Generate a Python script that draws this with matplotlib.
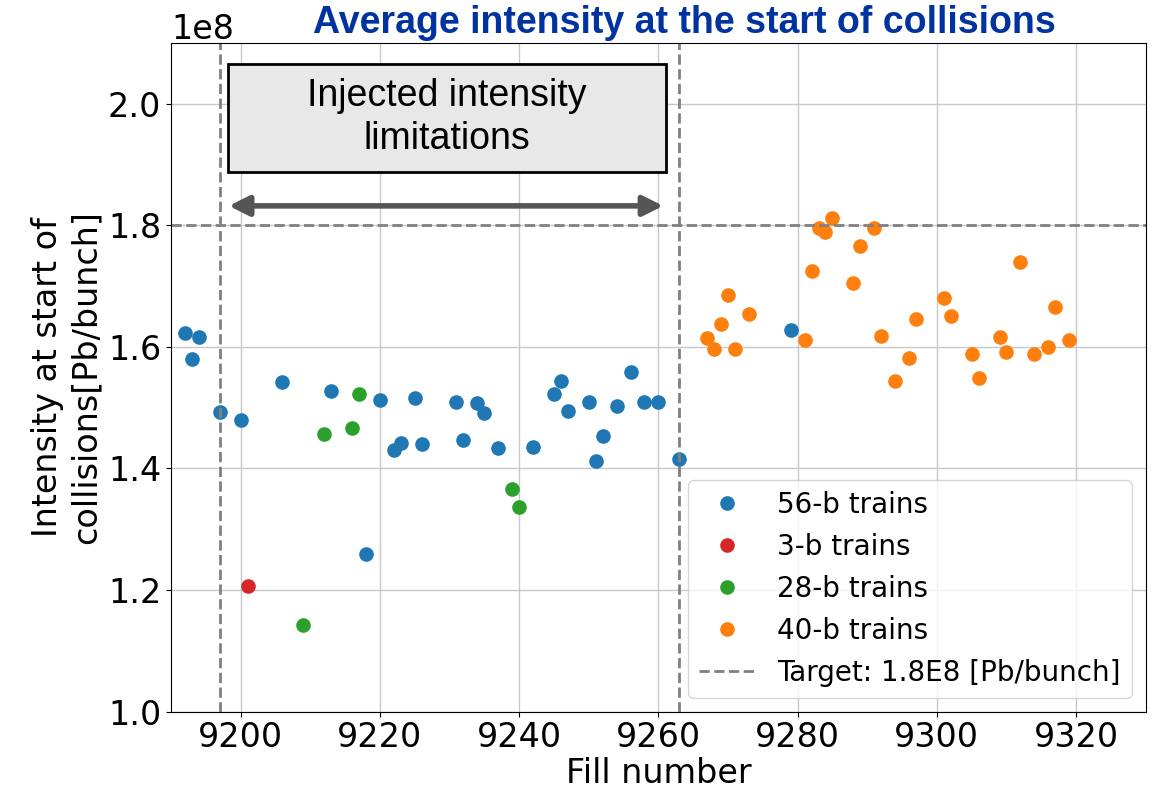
import matplotlib
matplotlib.use('Agg')
import matplotlib.pyplot as plt
from matplotlib.patches import Rectangle

# fills and average intensity at start of collisions (units of 1e8 Pb/bunch)
fill_56b = [9192, 9193, 9194, 9197, 9200, 9206, 9213, 9218, 9220, 9222, 9223,
            9225, 9226, 9231, 9232, 9234, 9235, 9237, 9242, 9245, 9246, 9247,
            9250, 9251, 9252, 9254, 9256, 9258, 9260, 9263, 9279]
int_56b = [1.622, 1.580, 1.616, 1.4925, 1.479, 1.542, 1.527, 1.259, 1.513, 1.431, 1.442,
           1.516, 1.441, 1.509, 1.446, 1.507, 1.492, 1.434, 1.435, 1.523, 1.543, 1.495,
           1.510, 1.412, 1.453, 1.503, 1.559, 1.509, 1.509, 1.416, 1.628]

fill_3b = [9201]
int_3b = [1.207]

fill_28b = [9209, 9212, 9216, 9217, 9239, 9240]
int_28b = [1.142, 1.456, 1.466, 1.522, 1.367, 1.336]

fill_40b = [9267, 9268, 9269, 9270, 9271, 9273, 9281, 9282, 9283, 9284, 9285,
            9288, 9289, 9291, 9292, 9294, 9296, 9297, 9301, 9302, 9305, 9306,
            9309, 9310, 9312, 9314, 9316, 9317, 9319]
int_40b = [1.614, 1.596, 1.638, 1.685, 1.596, 1.654, 1.612, 1.725, 1.796, 1.788, 1.811,
           1.705, 1.766, 1.796, 1.617, 1.543, 1.581, 1.645, 1.680, 1.650, 1.588, 1.549,
           1.616, 1.592, 1.740, 1.588, 1.599, 1.666, 1.612]

target = 1.8
limit_fills = [9197, 9263]

plt.rcParams['font.size'] = 24
plt.rcParams['xtick.labelsize'] = 24
plt.rcParams['ytick.labelsize'] = 24

fig = plt.figure(figsize=(11.58, 7.92), dpi=100)
ax = fig.add_axes([0.1477, 0.1013, 0.8417, 0.8448])

ms = 9.5
ax.plot(fill_56b, [v * 1e8 for v in int_56b], 'o', color='tab:blue', ms=ms, label='56-b trains')
ax.plot(fill_3b, [v * 1e8 for v in int_3b], 'o', color='tab:red', ms=ms, label='3-b trains')
ax.plot(fill_28b, [v * 1e8 for v in int_28b], 'o', color='tab:green', ms=ms, label='28-b trains')
ax.plot(fill_40b, [v * 1e8 for v in int_40b], 'o', color='tab:orange', ms=ms, label='40-b trains')

ax.axhline(target * 1e8, color='gray', ls='--', lw=2, label='Target: 1.8E8 [Pb/bunch]')
for f in limit_fills:
    ax.axvline(f, color='gray', ls='--', lw=2)

ax.set_xlim(9190, 9330)
ax.set_ylim(1.0e8, 2.1e8)
ax.set_xticks([9200, 9220, 9240, 9260, 9280, 9300, 9320])
ax.set_yticks([1.0e8, 1.2e8, 1.4e8, 1.6e8, 1.8e8, 2.0e8])
ax.grid(True, color='#c8c8c8', lw=1)
ax.set_axisbelow(True)
ax.set_xlabel('Fill number', labelpad=2)
ax.set_ylabel('Intensity at start of\ncollisions[Pb/bunch]')
ax.legend(loc='lower right', fontsize=20)

# annotation box and arrow
ax.add_patch(Rectangle((9198.13, 1.8876e8), 9261.1 - 9198.13, (2.0657 - 1.8876) * 1e8,
                       facecolor='#e8e8e8', edgecolor='black', lw=2, zorder=5))
ax.text((9198.13 + 9261.1) / 2, (2.0657 + 1.8876) / 2 * 1e8,
        'Injected intensity\nlimitations', ha='center', va='center',
        family='Liberation Sans', fontsize=27, linespacing=1.25, zorder=6)
ax.annotate('', xy=(9260.7, 1.8317e8), xytext=(9198.3, 1.8317e8),
            arrowprops=dict(arrowstyle='<|-|>', color='#555555', lw=4,
                            mutation_scale=30, shrinkA=0, shrinkB=0), zorder=6)

fig.text(0.2703, (792 - 33) / 792, 'Average intensity at the start of collisions',
         family='Liberation Sans', fontweight='bold', fontsize=27, color='#0033a0',
         ha='left', va='baseline')

fig.savefig('out.png', dpi=100)
